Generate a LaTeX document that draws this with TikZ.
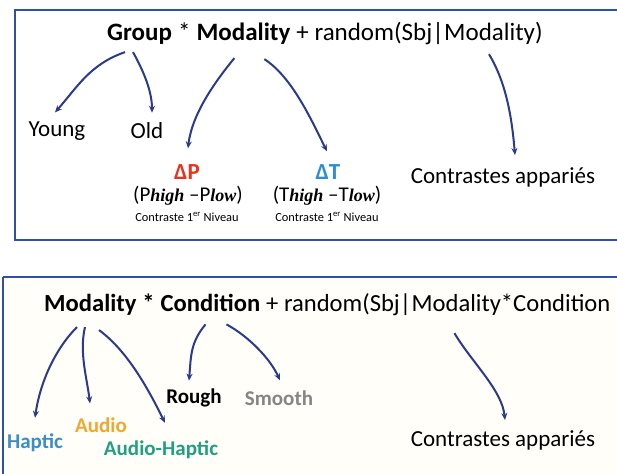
\documentclass[tikz,border=0pt]{standalone}
\usepackage{fontspec}
\setmainfont{Carlito}
\newfontfamily\scriptf{Liberation Serif}
\usetikzlibrary{arrows.meta,calc}
\definecolor{arrowblue}{HTML}{2B3A8C}
\definecolor{boxblue}{HTML}{3050A8}
\definecolor{dpred}{HTML}{E8321E}
\definecolor{dtblue}{HTML}{2E8FD0}
\definecolor{hapticc}{HTML}{3C8DC5}
\definecolor{audioc}{HTML}{F0A830}
\definecolor{ahc}{HTML}{20A080}
\definecolor{smoothc}{HTML}{858585}
\definecolor{cream}{HTML}{FFFEF8}
\tikzset{
  arr/.style={arrowblue, line width=2pt, -{Stealth[length=7pt,width=6pt]}},
  frame/.style={boxblue, line width=2.5pt},
  tword/.style={inner sep=0pt, anchor=base west, font=\fontsize{25}{29}\selectfont},
  bword/.style={inner sep=0pt, anchor=base west, font=\fontsize{24.6}{29}\selectfont},
  lab/.style={inner sep=0pt, font=\fontsize{23}{27}\selectfont},
  formula/.style={inner sep=0pt, font=\fontsize{21}{25}\selectfont},
  blab/.style={inner sep=0pt, font=\fontsize{21}{25}\selectfont\bfseries},
  small/.style={inner sep=0pt, font=\fontsize{12.4}{14}\selectfont},
}
\newcommand{\scr}[1]{{\scriptf\fontsize{18}{22}\selectfont\bfseries\itshape #1}}
\begin{document}
\begin{tikzpicture}[x=1pt,y=-1pt]
\useasboundingbox (0,0) rectangle (617,473);
\fill[white] (0,0) rectangle (617,473);
% frames
\fill[cream] (3,277) rectangle (625,480);
\draw[frame] (15,10) rectangle (630,240);
\draw[frame] (3,277) -- (630,277);
\draw[frame] (3,277) -- (3,480);

% ---- top title ----
\node[tword] (g1) at (107,41) {\bfseries Group};
\node[tword] (st1) at (g1.base east) {\ *\ \null};
\node[tword] (m1) at (st1.base east) {\bfseries Modality};
\node[tword] (r1) at (m1.base east) {\ + random(Sbj|};
\node[tword] (rm1) at (r1.base east) {Modality)};

% top labels
\node[lab] (young) at (57,131) {Young};
\node[lab] (old) at (147,131) {Old};
\node[lab, font=\fontsize{23}{27}\selectfont\bfseries, text=dpred] (dp) at (187,172) {ΔP};
\node[formula] (pf) at (188,196) {(P\scr{high}\ –P\scr{low})};
\node[small] (pc) at (187,217) {Contraste 1\textsuperscript{er} Niveau};
\node[lab, font=\fontsize{23}{27}\selectfont\bfseries, text=dtblue] (dt) at (328,172) {ΔT};
\node[formula] (tf) at (327,196) {(T\scr{high}\ –T\scr{low})};
\node[small] (tc) at (327,217) {Contraste 1\textsuperscript{er} Niveau};
\node[lab] (ca1) at (503,177) {Contrastes appariés};

% top arrows
\draw[arr] ($(g1.south west)+(18,7)$) .. controls +(-35,12) and +(22,-25) .. ($(young.north)+(-2,-9)$);
\draw[arr] ($(g1.south west)+(26,7)$) .. controls +(10,18) and +(0,-22) .. ($(old.north)+(5,-10)$);
\draw[arr] ($(m1.south west)+(38,13)$) .. controls +(-18,22) and +(4,-35) .. ($(dp.north)+(1,-16)$);
\draw[arr] ($(m1.south west)+(68,14)$) .. controls +(28,18) and +(-15,-30) .. ($(dt.north)+(-1,-13)$);
\draw[arr] ($(rm1.south west)+(45,9)$) .. controls +(18,30) and +(-3,-35) .. ($(ca1.north)+(12,-12)$);

% ---- bottom title ----
\node[bword] (m2) at (44,311) {\bfseries Modality};
\node[bword] (st2) at (m2.base east) {\bfseries\ *\ \null};
\node[bword] (c2) at (st2.base east) {\bfseries Condition};
\node[bword] (r2) at (c2.base east) {\ + random(Sbj|};
\node[bword] (rm2) at (r2.base east) {Modality*Condition};

% bottom labels
\node[blab, text=hapticc] (hap) at (35,443) {Haptic};
\node[blab, text=audioc] (aud) at (101,425) {Audio};
\node[blab, text=ahc] (ah) at (161,450) {Audio-Haptic};
\node[blab] (rough) at (194,398) {Rough};
\node[blab, text=smoothc] (smooth) at (279,398) {Smooth};
\node[lab] (ca2) at (503,440) {Contrastes appariés};

% bottom arrows
\draw[arr] ($(m2.south west)+(33,12)$) .. controls +(-22,22) and +(5,-35) .. ($(hap.north)+(0,-16)$);
\draw[arr] ($(m2.south west)+(41,12)$) .. controls +(-6,25) and +(-3,-25) .. ($(aud.north)+(-11,-14)$);
\draw[arr] ($(m2.south west)+(55,15)$) .. controls +(30,22) and +(-15,-30) .. ($(ah.north)+(4,-18)$);
\draw[arr] ($(c2.south west)+(45,13)$) .. controls +(-15,18) and +(2,-25) .. ($(rough.north)+(-5,-8)$);
\draw[arr] ($(c2.south west)+(66,13)$) .. controls +(22,12) and +(-10,-22) .. ($(smooth.north)+(1,-10)$);
\draw[arr] ($(rm2.south west)+(43,18)$) .. controls +(18,30) and +(-3,-30) .. ($(ca2.north)+(2,-10)$);
\end{tikzpicture}
\end{document}
